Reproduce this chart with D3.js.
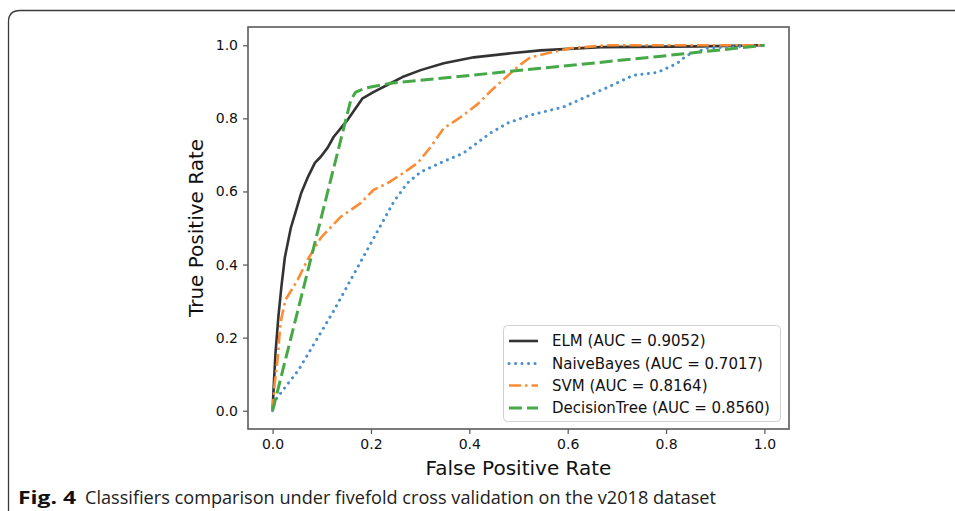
<!DOCTYPE html>
<html>
<head>
<meta charset="utf-8">
<script src="https://cdn.jsdelivr.net/npm/d3@7"></script>
<style>
  html, body { margin: 0; padding: 0; background: #fff; }
  svg { display: block; }
</style>
</head>
<body>
<svg id="chart" width="955" height="511"></svg>
<script>
// ---- data ----
const seriesNames = ["ELM (AUC = 0.9052)", "NaiveBayes (AUC = 0.7017)", "SVM (AUC = 0.8164)", "DecisionTree (AUC = 0.8560)"];

const elmFpr = [0, 0.002, 0.006, 0.012, 0.018, 0.025, 0.037, 0.047, 0.058, 0.072, 0.086, 0.098, 0.112, 0.124, 0.152, 0.183, 0.205, 0.240, 0.264, 0.301, 0.348, 0.409, 0.484, 0.545, 0.667, 0.870, 1.0];
const elmTpr = [0, 0.060, 0.160, 0.260, 0.340, 0.420, 0.500, 0.545, 0.595, 0.640, 0.678, 0.695, 0.720, 0.749, 0.795, 0.855, 0.872, 0.896, 0.913, 0.932, 0.951, 0.967, 0.978, 0.986, 0.995, 0.997, 1.0];

const nbFpr = [0, 0.006, 0.053, 0.122, 0.189, 0.246, 0.274, 0.301, 0.341, 0.388, 0.423, 0.443, 0.478, 0.524, 0.591, 0.681, 0.734, 0.783, 0.823, 0.843, 0.884, 1.0];
const nbTpr = [0, 0.030, 0.112, 0.268, 0.432, 0.571, 0.623, 0.653, 0.678, 0.705, 0.740, 0.760, 0.787, 0.809, 0.831, 0.885, 0.918, 0.926, 0.951, 0.973, 0.992, 1.0];

const svmFpr = [0, 0.004, 0.010, 0.016, 0.026, 0.051, 0.071, 0.098, 0.138, 0.179, 0.205, 0.234, 0.260, 0.295, 0.321, 0.348, 0.382, 0.417, 0.443, 0.470, 0.500, 0.524, 0.559, 0.606, 0.681, 1.0];
const svmTpr = [0, 0.071, 0.139, 0.240, 0.303, 0.358, 0.413, 0.473, 0.530, 0.568, 0.604, 0.623, 0.645, 0.678, 0.721, 0.773, 0.803, 0.839, 0.874, 0.907, 0.943, 0.967, 0.978, 0.992, 1.0, 1.0];

const dtFpr = [0, 0.159, 0.169, 0.189, 0.240, 0.545, 0.768, 1.0];
const dtTpr = [0, 0.850, 0.872, 0.883, 0.896, 0.937, 0.967, 1.0];

const tickValues = [0.0, 0.2, 0.4, 0.6, 0.8, 1.0];
const xLabel = "False Positive Rate";
const yLabel = "True Positive Rate";
const captionBold = "Fig. 4";
const captionText = "Classifiers comparison under fivefold cross validation on the v2018 dataset";

// ---- styles ----
const styles = [
  { color: "#333333", width: 2.6, dash: null, cap: "butt" },
  { color: "#4a90cc", width: 3, dash: "0.1,6.4", cap: "round" },
  { color: "#fb8c36", width: 2.6, dash: "12,4,2.5,4", cap: "butt" },
  { color: "#46a846", width: 3, dash: "13,5", cap: "butt" }
];
const series = [
  elmFpr.map((v, i) => [v, elmTpr[i]]),
  nbFpr.map((v, i) => [v, nbTpr[i]]),
  svmFpr.map((v, i) => [v, svmTpr[i]]),
  dtFpr.map((v, i) => [v, dtTpr[i]])
];

const svg = d3.select("#chart");
const font = "'DejaVu Sans', sans-serif";

// outer figure frame (rounded top-left corner)
svg.append("path")
  .attr("d", "M 8.5 511 L 8.5 22 Q 8.5 10.5 20 10.5 L 955 10.5")
  .attr("fill", "none").attr("stroke", "#3a3a3a").attr("stroke-width", 1.3);

const L = 248, R = 789, T = 27, B = 429;
const x = d3.scaleLinear().domain([-0.05, 1.05]).range([L, R]);
const y = d3.scaleLinear().domain([-0.05, 1.05]).range([B, T]);

// lines
const line = d3.line().x(d => x(d[0])).y(d => y(d[1]));
const gLines = svg.append("g");
series.forEach((s, i) => {
  const st = styles[i];
  gLines.append("path")
    .datum(s)
    .attr("d", line)
    .attr("fill", "none")
    .attr("stroke", st.color)
    .attr("stroke-width", st.width)
    .attr("stroke-linecap", st.cap)
    .attr("stroke-linejoin", "round")
    .attr("stroke-dasharray", st.dash);
});

// axes
const xAxis = svg.append("g").attr("transform", `translate(0,${B})`)
  .call(d3.axisBottom(x).tickValues(tickValues).tickFormat(d3.format(".1f")).tickSize(5).tickPadding(5));
const yAxis = svg.append("g").attr("transform", `translate(${L},0)`)
  .call(d3.axisLeft(y).tickValues(tickValues).tickFormat(d3.format(".1f")).tickSize(5).tickPadding(5));
[xAxis, yAxis].forEach(g => {
  g.select(".domain").remove();
  g.selectAll(".tick line").attr("stroke", "#555").attr("stroke-width", 1.2);
  g.selectAll(".tick text").attr("fill", "#111").style("font-family", font).style("font-size", "14px");
});

// frame
svg.append("rect")
  .attr("x", L).attr("y", T).attr("width", R - L).attr("height", B - T)
  .attr("fill", "none").attr("stroke", "#5a5a5a").attr("stroke-width", 1.6);

// axis labels
svg.append("text")
  .attr("x", (L + R) / 2).attr("y", 475)
  .attr("text-anchor", "middle")
  .style("font-family", font).style("font-size", "20px").attr("fill", "#111")
  .text(xLabel);
svg.append("text")
  .attr("transform", `translate(203,${(T + B) / 2}) rotate(-90)`)
  .attr("text-anchor", "middle")
  .style("font-family", font).style("font-size", "20px").attr("fill", "#111")
  .text(yLabel);

// legend
const lg = svg.append("g");
lg.append("rect")
  .attr("x", 503.5).attr("y", 325.5).attr("width", 277).attr("height", 96).attr("rx", 4)
  .attr("fill", "#fff").attr("fill-opacity", 0.85)
  .attr("stroke", "#d0d0d0").attr("stroke-width", 1);
const rowY = [341, 363.5, 385.5, 408];
seriesNames.forEach((name, i) => {
  const st = styles[i];
  lg.append("line")
    .attr("x1", 509).attr("x2", 538).attr("y1", rowY[i]).attr("y2", rowY[i])
    .attr("stroke", st.color).attr("stroke-width", st.width)
    .attr("stroke-linecap", st.cap).attr("stroke-dasharray", st.dash);
  lg.append("text")
    .attr("x", 552).attr("y", rowY[i]).attr("dy", "0.35em")
    .style("font-family", font).style("font-size", "15px").attr("fill", "#111")
    .text(name);
});

// caption
svg.append("text")
  .attr("x", 18).attr("y", 504)
  .style("font-family", "'Open Sans', 'Noto Sans', sans-serif").style("font-size", "18px")
  .style("font-weight", "bold").attr("fill", "#111")
  .attr("textLength", 58).attr("lengthAdjust", "spacingAndGlyphs")
  .text(captionBold);
svg.append("text")
  .attr("x", 85).attr("y", 504)
  .style("font-family", "'Open Sans', 'Noto Sans', sans-serif").style("font-size", "18px")
  .attr("fill", "#222")
  .attr("textLength", 631).attr("lengthAdjust", "spacingAndGlyphs")
  .text(captionText);
</script>
</body>
</html>
